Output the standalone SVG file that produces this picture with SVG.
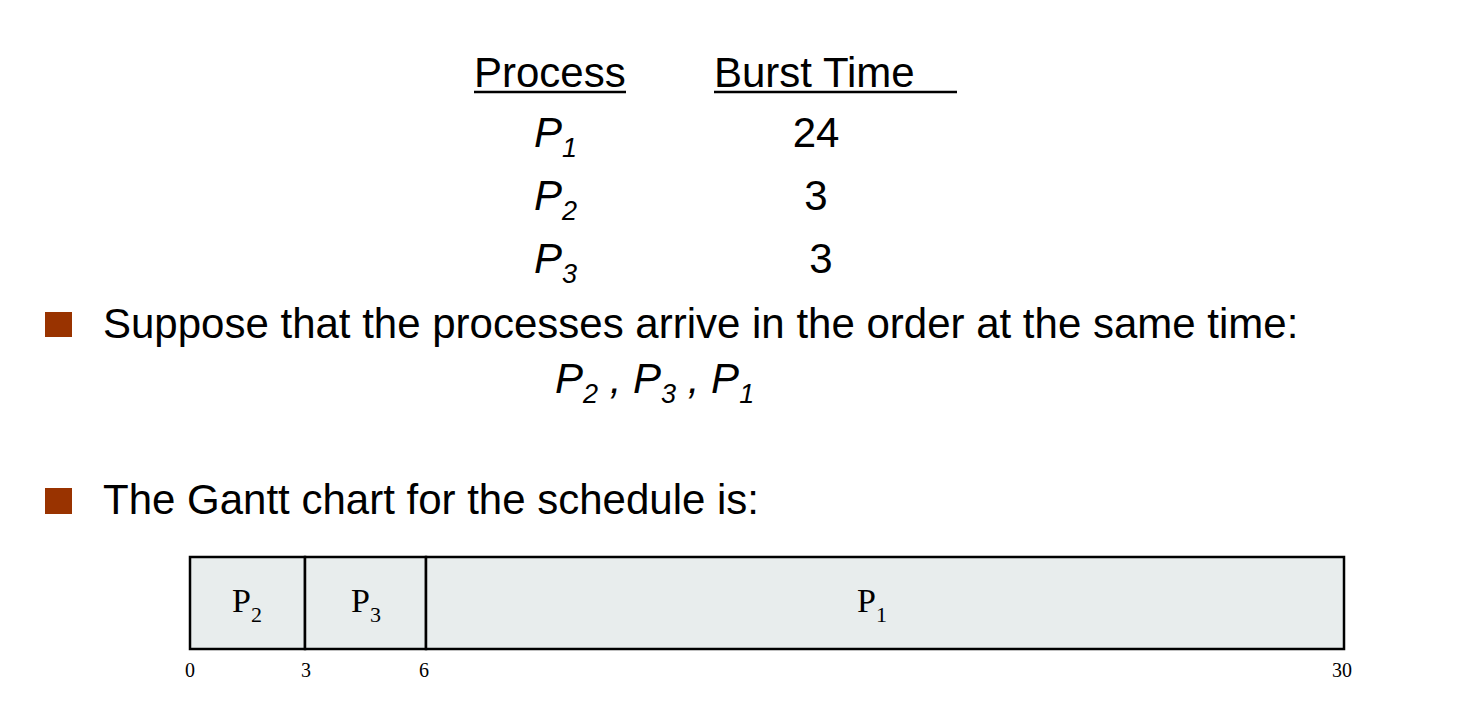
<svg xmlns="http://www.w3.org/2000/svg" width="1461" height="724" viewBox="0 0 1461 724">
<style>
.sans{font-family:"Liberation Sans",Arial,sans-serif;font-size:42px;fill:#000}
.it{font-style:italic}
.sub{font-size:27px}
.serif{font-family:"Liberation Serif","Times New Roman",serif;fill:#000}
.glab{font-size:34px}
.gsub{font-size:22px}
.tick{font-size:20px}
.bullet{fill:#993300}
.cell{fill:#e8eded;stroke:#000;stroke-width:2.5}
.ul{stroke:#000;stroke-width:2.5}
</style>
<rect width="1461" height="724" fill="#fff"/>
<g id="table">
<text class="sans" x="474" y="87">Process</text>
<line class="ul" x1="474" y1="92" x2="626" y2="92"/>
<text class="sans" x="714" y="87">Burst Time</text>
<line class="ul" x1="714" y1="92" x2="957" y2="92"/>
<text class="sans it" x="534" y="147">P<tspan class="sub" dy="10">1</tspan></text>
<text class="sans it" x="534" y="210">P<tspan class="sub" dy="10">2</tspan></text>
<text class="sans it" x="534" y="273">P<tspan class="sub" dy="10">3</tspan></text>
<text class="sans" x="816" y="147" text-anchor="middle">24</text>
<text class="sans" x="816" y="210" text-anchor="middle">3</text>
<text class="sans" x="821" y="273" text-anchor="middle">3</text>
</g>
<g id="bullet1">
<rect class="bullet" x="45" y="312" width="27" height="25"/>
<text class="sans" x="103" y="338">Suppose that the processes arrive in the order at the same time:</text>
</g>
<g id="order">
<text class="sans it" x="555" y="393">P<tspan class="sub" dy="10">2</tspan><tspan dy="-10"> , P</tspan><tspan class="sub" dy="10">3</tspan><tspan dy="-10"> , P</tspan><tspan class="sub" dy="10">1</tspan></text>
</g>
<g id="bullet2">
<rect class="bullet" x="45" y="488" width="27" height="26"/>
<text class="sans" x="103" y="514">The Gantt chart for the schedule is:</text>
</g>
<g id="gantt">
<g id="cell-p2">
<rect class="cell" x="190" y="557" width="115" height="92"/>
<text class="serif glab" x="232" y="612">P<tspan class="gsub" dy="10">2</tspan></text>
</g>
<g id="cell-p3">
<rect class="cell" x="305" y="557" width="121" height="92"/>
<text class="serif glab" x="351" y="612">P<tspan class="gsub" dy="10">3</tspan></text>
</g>
<g id="cell-p1">
<rect class="cell" x="426" y="557" width="918" height="92"/>
<text class="serif glab" x="857" y="612">P<tspan class="gsub" dy="10">1</tspan></text>
</g>
<g id="ticks">
<text class="serif tick" x="190" y="677" text-anchor="middle">0</text>
<text class="serif tick" x="306" y="677" text-anchor="middle">3</text>
<text class="serif tick" x="424" y="677" text-anchor="middle">6</text>
<text class="serif tick" x="1342" y="677" text-anchor="middle">30</text>
</g>
</g>
</svg>
